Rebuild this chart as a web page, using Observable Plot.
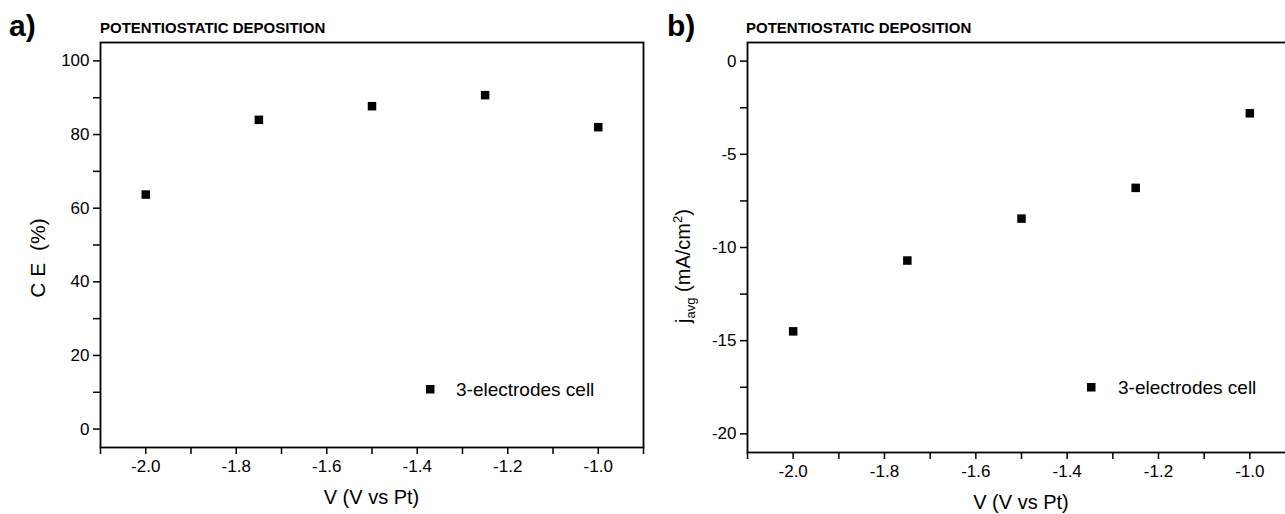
<!DOCTYPE html>
<html><head><meta charset="utf-8">
<script src="https://cdn.jsdelivr.net/npm/d3@7"></script>
<script src="https://cdn.jsdelivr.net/npm/@observablehq/plot@0.6"></script>
<style>
html,body{margin:0;padding:0;background:#fff;overflow:hidden}
#wrap{position:relative;width:1285px;height:514px;overflow:hidden;background:#fff;font-family:"Liberation Sans",Arial,sans-serif;color:#000}
#wrap > svg{position:absolute;top:0}
#wrap svg g[aria-label$="tick"] path, #wrap svg g.tick line{stroke-width:1.5}
</style></head><body><div id="wrap"></div>
<script>
// ---- data ----
const potentials = [-2.0, -1.75, -1.5, -1.25, -1.0];          // V (V vs Pt)
const ceValues   = [63.7, 84.0, 87.7, 90.7, 82.0];             // C E (%)
const jValues    = [-14.5, -10.7, -8.45, -6.8, -2.8];          // j_avg (mA/cm2)
const xTicks     = [-2.1, -2.0, -1.9, -1.8, -1.7, -1.6, -1.5, -1.4, -1.3, -1.2, -1.1, -1.0, -0.9];
const xTickLabels = ["-2.0", "-1.8", "-1.6", "-1.4", "-1.2", "-1.0"];
const ceTicks    = [0, 10, 20, 30, 40, 50, 60, 70, 80, 90, 100];
const ceTickLabels = ["0", "20", "40", "60", "80", "100"];
const jTicks     = [-20, -17.5, -15, -12.5, -10, -7.5, -5, -2.5, 0];
const jTickLabels = ["-20", "-15", "-10", "-5", "0"];
const panelTitle = "POTENTIOSTATIC DEPOSITION";
const seriesName = "3-electrodes cell";
const xLabel = "V (V vs Pt)";

const rowsA = potentials.map((v, i) => ({v, y: ceValues[i]}));
const rowsB = potentials.map((v, i) => ({v, y: jValues[i]}));

const fmtX = d => { const s = d.toFixed(1); return xTickLabels.includes(s) ? s : ""; };
const fmtA = d => { const s = String(d); return ceTickLabels.includes(s) ? s : ""; };
const fmtB = d => { const s = String(d); return jTickLabels.includes(s) ? s : ""; };

const font = "'Liberation Sans', Arial, sans-serif";
const baseStyle = {fontFamily: font, fontSize: "17px", color: "#000", background: "transparent", overflow: "visible", maxWidth: "none"};

const wrap = document.getElementById("wrap");

const plotA = Plot.plot({
  width: 660, height: 514,
  marginLeft: 100, marginRight: 17, marginTop: 42, marginBottom: 67,
  style: baseStyle,
  x: {domain: [-2.1, -0.9], ticks: xTicks, tickFormat: fmtX, tickSize: 7, tickPadding: 5, label: null},
  y: {domain: [-5, 105], ticks: ceTicks, tickFormat: fmtA, tickSize: 7, tickPadding: 4, label: null},
  marks: [
    Plot.frame({stroke: "#000", strokeWidth: 1.8}),
    Plot.dot(rowsA, {x: "v", y: "y", symbol: "square", r: 4.8, fill: "#000"})
  ]
});
plotA.style.left = "0px";
wrap.appendChild(plotA);

const plotB = Plot.plot({
  width: 660, height: 514,
  marginLeft: 102, marginRight: 10, marginTop: 42, marginBottom: 62,
  style: baseStyle,
  x: {domain: [-2.1, -0.9], ticks: xTicks, tickFormat: fmtX, tickSize: 7, tickPadding: 5, label: null},
  y: {domain: [-21, 1], ticks: jTicks, tickFormat: fmtB, tickSize: 7, tickPadding: 4, label: null},
  marks: [
    Plot.frame({stroke: "#000", strokeWidth: 1.8}),
    Plot.dot(rowsB, {x: "v", y: "y", symbol: "square", r: 4.8, fill: "#000"})
  ]
});
plotB.style.left = "645px";
wrap.appendChild(plotB);

// ---- annotation overlay ----
const ov = d3.select(wrap).append("svg")
  .attr("width", 1285).attr("height", 514)
  .style("left", "0px").style("pointer-events", "none")
  .attr("font-family", font).attr("fill", "#000");

function t(x, y, str, size, opts = {}) {
  const el = ov.append("text").attr("x", x).attr("y", y).attr("font-size", size).text(str);
  if (opts.bold) el.attr("font-weight", "bold");
  if (opts.anchor) el.attr("text-anchor", opts.anchor);
  return el;
}
t(9, 36, "a)", 30, {bold: true});
t(667, 36, "b)", 30, {bold: true});
t(100, 33, panelTitle, 15, {bold: true});
t(746, 33, panelTitle, 15, {bold: true});
t(371.5, 504, xLabel, 20, {anchor: "middle"});
t(1021, 509, xLabel, 20, {anchor: "middle"});

// y labels
ov.append("text").attr("transform", "translate(45,258) rotate(-90)")
  .attr("text-anchor", "middle").attr("font-size", 21)
  .attr("xml:space", "preserve").style("white-space", "pre").text("C E  (%)");
const yb = ov.append("text").attr("transform", "translate(690,266) rotate(-90)")
  .attr("text-anchor", "middle").attr("font-size", 20);
yb.append("tspan").text("j");
yb.append("tspan").attr("font-size", 13).attr("dy", 5).text("avg");
yb.append("tspan").attr("dy", -5).text(" (mA/cm");
yb.append("tspan").attr("font-size", 13).attr("dy", -8).text("2");
yb.append("tspan").attr("dy", 8).text(")");

// legends
ov.append("rect").attr("x", 426).attr("y", 385).attr("width", 8.5).attr("height", 8.5).attr("fill", "#000");
t(456, 396, seriesName, 19);
ov.append("rect").attr("x", 1087).attr("y", 383).attr("width", 8.5).attr("height", 8.5).attr("fill", "#000");
t(1118, 394, seriesName, 19);
</script></body></html>
